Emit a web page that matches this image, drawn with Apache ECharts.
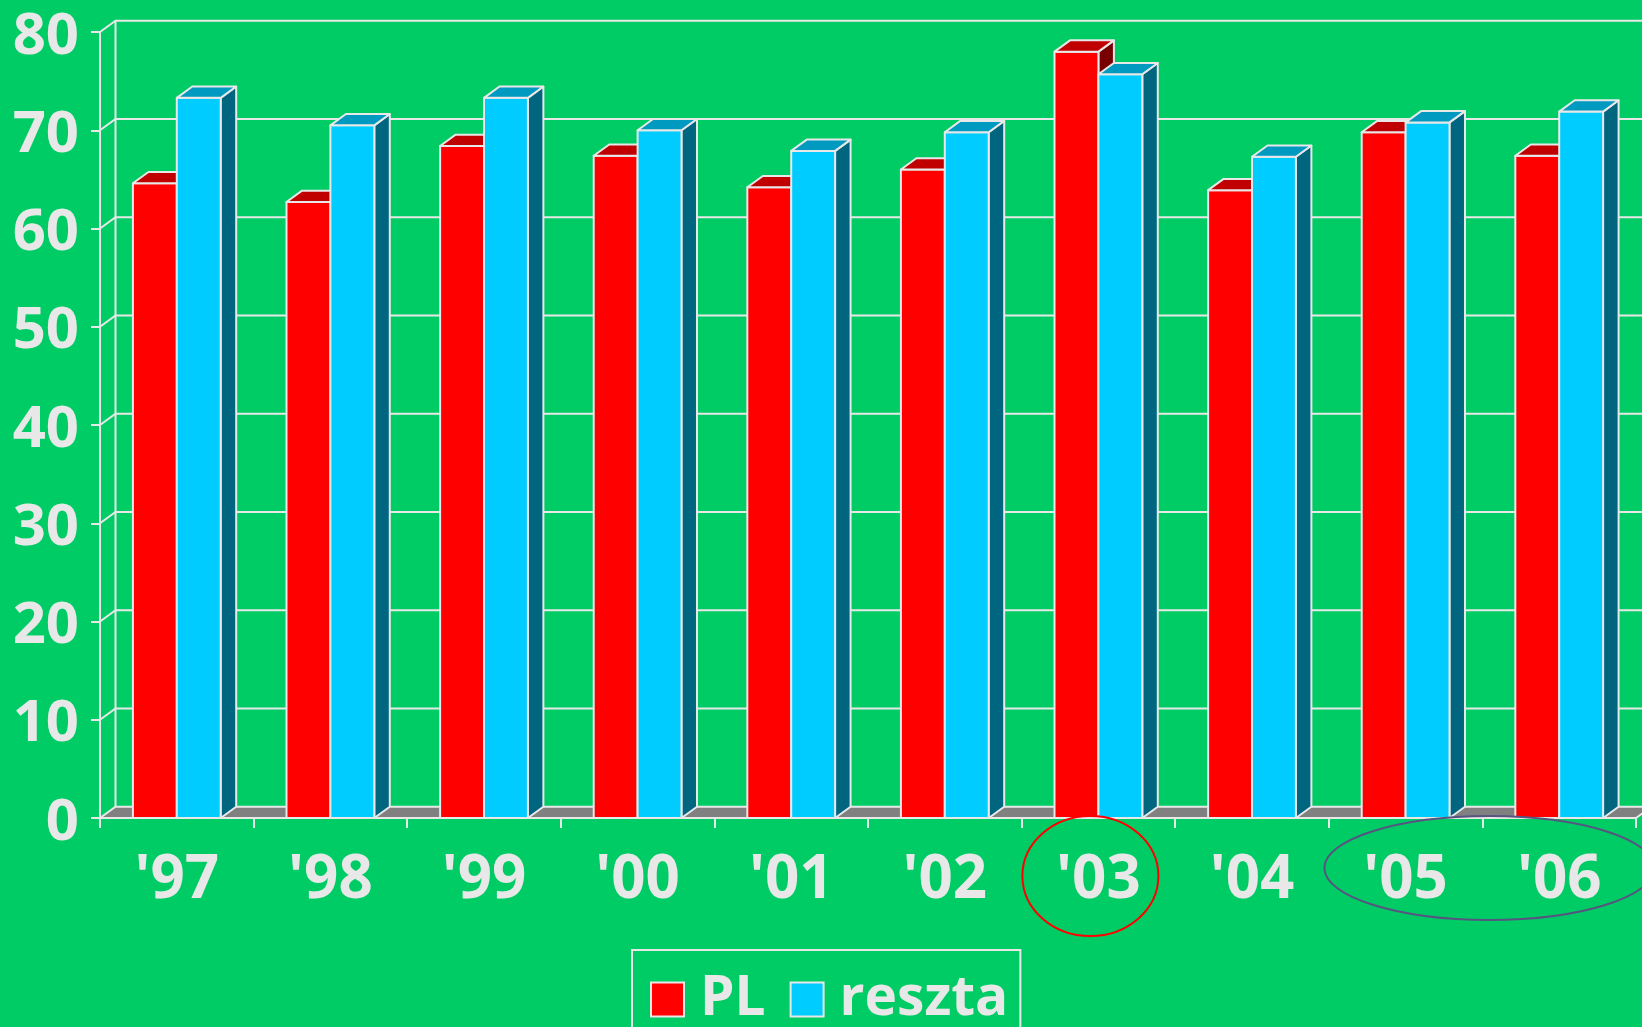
<!DOCTYPE html>
<html>
<head>
<meta charset="utf-8">
<script src="https://cdn.jsdelivr.net/npm/echarts@6/dist/echarts.min.js"></script>
<style>
html,body{margin:0;padding:0;background:#00CC66;}
#chart{width:1642px;height:1027px;}
</style>
</head>
<body>
<div id="chart"></div>
<script>
const categories = ["'97","'98","'99","'00","'01","'02","'03","'04","'05","'06"];
const plValues = [64.6, 62.7, 68.4, 67.4, 64.2, 66.0, 78.0, 63.9, 69.8, 67.4];
const resztaValues = [73.3, 70.5, 73.3, 70.0, 67.9, 69.8, 75.7, 67.3, 70.8, 71.9];
const yTicks = [0, 10, 20, 30, 40, 50, 60, 70, 80];
const seriesNames = ['PL', 'reszta'];

const LINE = '#E8E8E8';
const DX = 15.5, DY = 11.3;      // 3D depth offset
const FONT = "'Open Sans', 'DejaVu Sans', sans-serif";

const chart = echarts.init(document.getElementById('chart'));

function frameRender(params, api) {
  const cs = params.coordSys;
  const v = api.value(1);
  const y = api.coord([0, v])[1];
  const left = cs.x, right = cs.x + cs.width;
  const children = [];
  if (v === 0) {
    children.push({
      type: 'polygon',
      shape: { points: [[left, y], [left + DX, y - DY], [right + DX, y - DY], [right, y]] },
      style: { fill: '#808080', stroke: LINE, lineWidth: 2 }
    });
    const yTop = api.coord([0, yTicks[yTicks.length - 1]])[1];
    children.push({
      type: 'line',
      shape: { x1: left + DX, y1: yTop - DY, x2: left + DX, y2: y - DY },
      style: { stroke: LINE, lineWidth: 2 }
    });
  } else {
    children.push({
      type: 'polyline',
      shape: { points: [[left, y], [left + DX, y - DY], [right + DX + 20, y - DY]] },
      style: { stroke: LINE, lineWidth: 2, fill: null }
    });
  }
  return { type: 'group', children: children };
}

function makeBarRender(slot, colors) {
  return function (params, api) {
    const idx = api.value(0);
    const top = api.coord([idx, api.value(1)]);
    const base = api.coord([idx, 0]);
    const w = api.size([1, 0])[0];
    const barW = w / 3.5;
    const x0 = top[0] - w / 2 + 0.75 * barW + slot * barW;
    const yt = top[1], yb = base[1];
    const st = { stroke: LINE, lineWidth: 2, lineJoin: 'round' };
    return {
      type: 'group',
      children: [
        { type: 'polygon', shape: { points: [[x0 + barW, yt], [x0 + barW + DX, yt - DY], [x0 + barW + DX, yb - DY], [x0 + barW, yb]] },
          style: Object.assign({ fill: colors.side }, st) },
        { type: 'rect', shape: { x: x0, y: yt, width: barW, height: yb - yt },
          style: Object.assign({ fill: colors.front }, st) },
        { type: 'polygon', shape: { points: [[x0, yt], [x0 + barW, yt], [x0 + barW + DX, yt - DY], [x0 + DX, yt - DY]] },
          style: Object.assign({ fill: colors.top }, st) }
      ]
    };
  };
}

const redColors = { front: '#FF0000', top: '#C00000', side: '#780000' };
const blueColors = { front: '#00CCFF', top: '#0099C0', side: '#006680' };

const option = {
  backgroundColor: '#00CC66',
  animation: false,
  grid: { left: 100, right: 6, top: 32, bottom: 209, containLabel: false },
  xAxis: {
    type: 'category',
    data: categories,
    boundaryGap: true,
    axisLine: { show: true, lineStyle: { color: LINE, width: 2 } },
    axisTick: { show: true, length: 10, lineStyle: { color: LINE, width: 2 } },
    axisLabel: { color: LINE, fontSize: 60, fontWeight: 'bold', fontFamily: FONT, margin: 33 },
    splitLine: { show: false }
  },
  yAxis: {
    type: 'value',
    min: 0, max: 80, interval: 10,
    axisLine: { show: true, lineStyle: { color: LINE, width: 2 } },
    axisTick: { show: true, length: 9, lineStyle: { color: LINE, width: 2 } },
    axisLabel: { color: LINE, fontSize: 58, fontWeight: 'bold', fontFamily: FONT, margin: 21,
                 verticalAlign: 'top', lineHeight: 10 },
    splitLine: { show: false }
  },
  legend: {
    left: 632, top: 950,
    orient: 'horizontal',
    padding: [22, 12, 40, 18],
    borderColor: LINE, borderWidth: 2,
    itemWidth: 33, itemHeight: 34, itemGap: 24,
    textStyle: { color: LINE, fontSize: 55, fontWeight: 'bold', fontFamily: FONT, padding: [0, 0, 0, 11] },
    data: [
      { name: seriesNames[0], icon: 'rect', itemStyle: { color: '#FF0000', borderColor: LINE, borderWidth: 2 } },
      { name: seriesNames[1], icon: 'rect', itemStyle: { color: '#00CCFF', borderColor: LINE, borderWidth: 2 } }
    ]
  },
  series: [
    {
      name: 'frame', type: 'custom', silent: true, clip: false, z: 1,
      renderItem: frameRender,
      encode: { x: 0, y: 1 },
      data: yTicks.map(v => [0, v])
    },
    {
      name: seriesNames[0], type: 'custom', clip: false, z: 2,
      itemStyle: { color: '#FF0000' },
      renderItem: makeBarRender(0, redColors),
      encode: { x: 0, y: 1 },
      data: plValues.map((v, i) => [i, v])
    },
    {
      name: seriesNames[1], type: 'custom', clip: false, z: 3,
      itemStyle: { color: '#00CCFF' },
      renderItem: makeBarRender(1, blueColors),
      encode: { x: 0, y: 1 },
      data: resztaValues.map((v, i) => [i, v])
    }
  ]
};
chart.setOption(option);

// annotation ellipses placed relative to the category axis
const c03 = chart.convertToPixel({ xAxisIndex: 0 }, categories[6]);
const c05 = chart.convertToPixel({ xAxisIndex: 0 }, categories[8]);
const c06 = chart.convertToPixel({ xAxisIndex: 0 }, categories[9]);
chart.setOption({
  graphic: [
    { type: 'ellipse', shape: { cx: c03 - 8, cy: 876, rx: 68, ry: 60 },
      style: { fill: null, stroke: '#FF0000', lineWidth: 2 }, z: 10 },
    { type: 'ellipse', shape: { cx: (c05 + c06) / 2 + 7, cy: 868, rx: 165, ry: 52 },
      style: { fill: null, stroke: '#555580', lineWidth: 2 }, z: 10 }
  ]
});
</script>
</body>
</html>
